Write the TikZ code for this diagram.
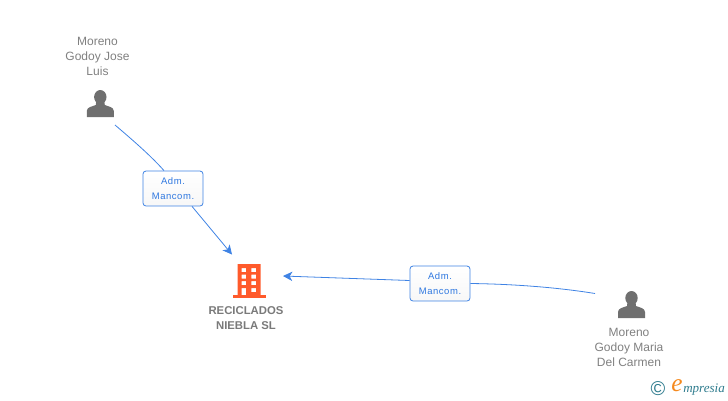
\documentclass[tikz,border=0pt]{standalone}
\usepackage{fontspec}
\setmainfont{Liberation Sans}
\newfontfamily\adminfont[LetterSpace=6]{Liberation Sans}
\newfontfamily\logofont{Liberation Serif}
\usetikzlibrary{arrows.meta}
\definecolor{linkblue}{HTML}{3F83E4}
\definecolor{adminblue}{HTML}{2F78E0}
\definecolor{namegray}{HTML}{808080}
\definecolor{icongray}{HTML}{6F6F6F}
\definecolor{firmorange}{HTML}{FF5A2B}
\definecolor{logoteal}{HTML}{2F7C8E}
\definecolor{logoorange}{HTML}{F58A1F}
\tikzset{
    person/.style={text=namegray,align=center,font=\fontsize{9}{11.25}\selectfont},
    firm/.style={text=namegray!95!black,align=center,font=\fontsize{8.5}{11.25}\selectfont\bfseries},
    admin/.style={draw=linkblue,rounded corners=2.2pt,top color=white,bottom color=black!3,line width=.6pt,
        minimum width=45pt,minimum height=26.2pt,inner sep=0pt,text=adminblue,align=center,
        font=\fontsize{7.1}{11.25}\selectfont\adminfont},
    link/.style={draw=linkblue,line width=.6pt},
    linkend/.style={link,-{Stealth[length=7pt,width=7pt,inset=2pt]}},
    personicon/.pic={
        \fill[icongray] (0,-7) circle[x radius=6.2,y radius=7];
        \fill[icongray] (-13.5,13) -- (-13.5,7) .. controls (-13.5,3) and (-8,2.5) .. (-4.5,1)
            -- (-4,-3) -- (4,-3) -- (4.5,1) .. controls (8,2.5) and (13.5,3) .. (13.5,7) -- (13.5,13) -- cycle;
    },
    firmicon/.pic={
        \fill[firmorange,even odd rule] (-9,-16) rectangle (14,16) (-5,-12) rectangle (-.7,-8)
            (4.6,-12) rectangle (9.3,-8) (-5,-5.5) rectangle (-.7,-1.5) (4.6,-5.5) rectangle (9.3,-1.5)
            (-5,1) rectangle (-.7,5) (4.6,1) rectangle (9.3,5) (-5,8) rectangle (-.7,15) (4.6,8) rectangle (9.3,12);
        \fill[firmorange] (-14,15) rectangle (19,18);
    }
}
\begin{document}
\begin{tikzpicture}[x=.75pt,y=-.75pt]
    \useasboundingbox (0,0) rectangle (728,400);

    \pic at (100.3,104) {personicon};
    \pic at (631.5,305) {personicon};
    \pic at (246.7,280) {firmicon};

    \node[person] (p1) at (97.5,56) {Moreno\\Godoy Jose\\Luis};
    \node[person] (p2) at (629,347) {Moreno\\Godoy Maria\\Del Carmen};
    \node[firm] (firm) at (246,318) {RECICLADOS\\NIEBLA SL};

    \node[admin] (a1) at (173,188.5) {Adm.\\Mancom.};
    \node[admin] (a2) at (440,283.5) {Adm.\\Mancom.};

    \coordinate (p1out) at (115,125);
    \coordinate (p2out) at (595,293.5);
    \coordinate (firmtop) at (232,254.5);
    \coordinate (firmside) at (283,276);

    \draw[link] (p1out) .. controls (135,142) and (152,157) .. ([xshift=-6.75pt]a1.north);
    \draw[linkend] ([xshift=14.25pt]a1.south) -- (firmtop);
    \draw[link] (p2out) .. controls (555,287) and (510,284) .. (a2.east);
    \draw[linkend] ([yshift=2.25pt]a2.west) -- (firmside);

    \node[text=logoteal,font=\fontsize{15}{15}\selectfont] (copy) at (658,388.5) {©};
    \node[text=logoorange,font=\fontsize{19}{19}\selectfont\logofont\itshape] (logoe) at (677,385.5) {e};
    \node[text=logoteal,font=\fontsize{9.8}{10}\selectfont\logofont\itshape,anchor=west,inner sep=0pt] (logo) at (683,389.5) {mpresia};
\end{tikzpicture}
\end{document}
